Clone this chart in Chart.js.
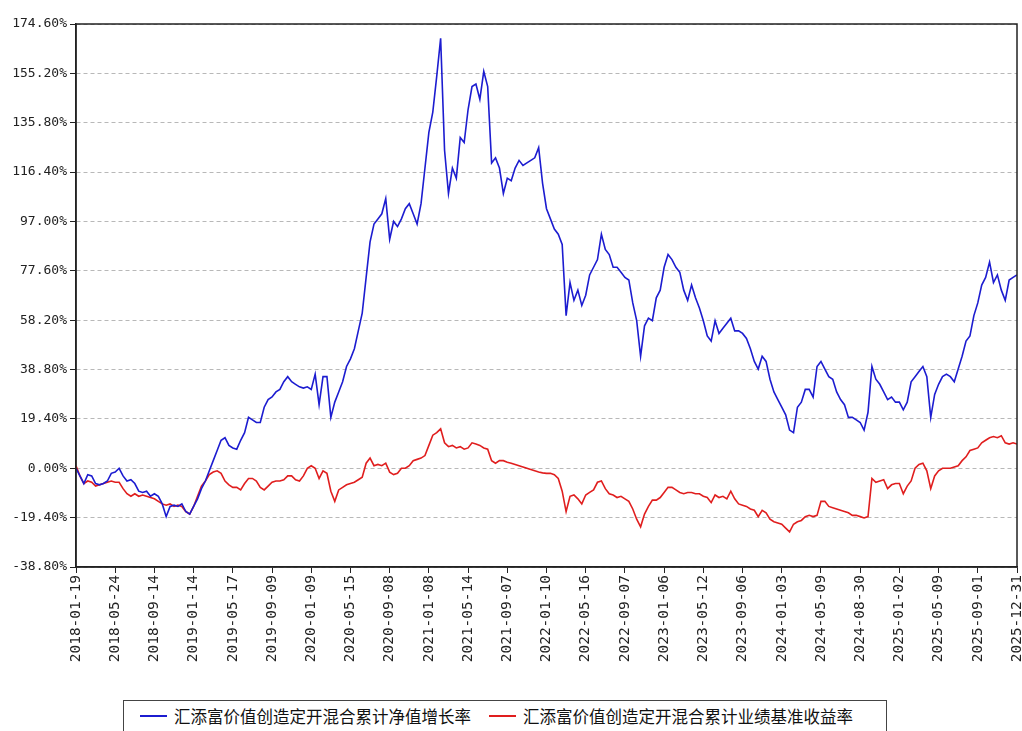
<!DOCTYPE html>
<html>
<head>
<meta charset="utf-8">
<title>汇添富价值创造定开混合 累计收益率</title>
<script src="https://cdn.jsdelivr.net/npm/chart.js@4.4.3/dist/chart.umd.min.js"></script>
<style>
  html, body { margin: 0; padding: 0; background: #fff; overflow: hidden; }
  #wrap { position: relative; width: 1022px; height: 731px; }
  #legend {
    position: absolute; left: 123px; top: 700px; width: 764px; height: 44px;
    box-sizing: border-box; border: 1px solid #444; background: #fff;
    font-family: "Noto Sans CJK SC", sans-serif; font-size: 16.5px; color: #111;
    display: flex; align-items: flex-start; padding: 3px 0 0 16px; white-space: nowrap;
  }
  #legend .item { display: flex; align-items: center; margin-right: 18px; }
  #legend .swatch { display: inline-block; width: 27px; height: 2px; margin-right: 7px; }
</style>
</head>
<body>
<div id="wrap">
  <canvas id="chart" width="1022" height="731"></canvas>
  <div id="legend"></div>
</div>
<script>
/* 累计净值增长率 vs 业绩基准收益率, one point per ~8 trading days */
const seriesNames = ['汇添富价值创造定开混合累计净值增长率', '汇添富价值创造定开混合累计业绩基准收益率'];
const seriesColors = ['#1c1cd0', '#e01e1e'];

// x tick labels, one every 10 points
const dateTicks = [
  '2018-01-19', '2018-05-24', '2018-09-14', '2019-01-14', '2019-05-17',
  '2019-09-09', '2020-01-09', '2020-05-15', '2020-09-08', '2021-01-08',
  '2021-05-14', '2021-09-07', '2022-01-10', '2022-05-16', '2022-09-07',
  '2023-01-06', '2023-05-12', '2023-09-06', '2024-01-03', '2024-05-09',
  '2024-08-30', '2025-01-02', '2025-05-09', '2025-09-01', '2025-12-31'
];
const yTicks = [-38.8, -19.4, 0, 19.4, 38.8, 58.2, 77.6, 97.0, 116.4, 135.8, 155.2, 174.6];

// 累计净值增长率 (%)
const navGrowth = [
  0, -3, -6, -2.5, -3, -6, -6.5, -6, -5, -2,
  -1.5, 0, -3, -5, -4.5, -6, -9, -9.5, -9, -11,
  -10, -11, -14, -19, -15, -14.5, -15, -14, -17, -18,
  -15, -12, -8, -5, -1, 3, 7, 11, 12, 9,
  8, 7.5, 11, 14, 20, 19, 18, 18, 24, 27,
  28, 30, 31, 34, 36, 34, 33, 32, 31.5, 32,
  31, 37, 25, 36, 36, 20, 26, 30, 34, 40,
  43, 47, 54, 61, 75, 89, 96, 98, 100, 106,
  90, 97, 95, 98, 102, 104, 100, 96, 104, 118,
  132, 140, 154, 169, 125, 108, 118, 114, 130, 128,
  141, 150, 151, 145, 156, 150, 120, 122, 118, 108,
  114, 113, 118, 121, 119, 120, 121, 122, 126, 112,
  102, 98, 94, 92, 88, 60, 73, 66, 70, 64,
  68, 76, 79, 82, 92, 86, 84, 79, 79, 77,
  75, 74, 65, 58, 44, 56, 59, 58, 67, 70,
  79, 84, 82, 79, 77, 70, 66, 72, 67, 63,
  58, 52, 50, 58, 53, 55, 57, 59, 54, 54,
  53, 51, 47, 42, 39, 44, 42, 35, 30, 27,
  24, 21, 15, 14, 24, 26, 31, 31, 28, 40,
  42, 39, 36, 35, 30, 27, 25, 20, 20, 19,
  18, 15, 22, 40, 35, 33, 30, 27, 28, 26,
  26, 23, 26, 34, 36, 38, 40, 36, 20, 29,
  33, 36, 37, 36, 34, 39, 44, 50, 52, 60,
  65, 72, 75, 81, 73, 76, 70, 66, 74, 75,
  76
];

// 累计业绩基准收益率 (%)
const benchReturn = [
  1, -3, -6, -5, -5.5, -7, -6.5, -6, -5.5, -5,
  -5.5, -5.5, -8, -10, -11, -10, -11, -10.5, -11, -11.5,
  -12, -13, -14, -14.5, -14, -15, -14.5, -15, -17, -18,
  -15, -11, -7, -5, -2.5, -1.5, -1, -2, -5, -6.5,
  -7.5, -7.5, -8.5, -6, -4, -4, -5, -7.5, -8.5, -7,
  -5.5, -5, -5, -4.5, -3, -3, -4.5, -5, -3, 0,
  1, 0, -4, -1, -2, -9, -13, -8.5, -7.5, -6.5,
  -6, -5.5, -4.5, -3.5, 2, 4, 1, 1.5, 1, 2,
  -1.5, -2.5, -2, 0, 0, 1, 3, 3.5, 4, 5,
  9, 13, 14, 15.5, 10, 8.5, 9, 8, 8.5, 7.5,
  8, 10, 9.5, 9, 8, 7.5, 3, 2, 3, 3,
  2.4, 2, 1.5, 1, 0.5, 0, -0.5, -1, -1.5, -1.8,
  -2, -2, -2.5, -4, -9, -17, -11, -10.5, -12, -14,
  -10.5, -9.5, -8.5, -5.5, -5, -8, -10, -10.5, -11.5, -11,
  -12, -13, -16, -20, -23, -18, -15, -12.5, -12.5, -11.5,
  -9.5, -7.5, -7.5, -8.5, -9.5, -10, -9.5, -9.5, -10, -10,
  -11, -11.5, -13.5, -10.5, -11.5, -11, -12, -9, -12, -14,
  -14.5, -15, -16, -16.5, -19, -16.5, -17.5, -20, -21, -21.5,
  -22, -23.5, -25, -22, -21, -20.5, -19, -18.5, -19, -18.5,
  -13, -13, -15, -15.5, -16, -16.5, -17, -17.5, -18.5, -18.5,
  -19, -19.5, -19, -4, -5.5, -5, -4.5, -8, -6.5, -6,
  -6, -10, -7, -5, 0, 1.5, 2, -1, -8, -3,
  -1, 0, 0, 0, 0.5, 1, 3, 4.5, 7, 7.5,
  8, 10, 11, 12, 12.5, 12, 12.8, 10, 9.5, 10,
  9.5
];

const frame = {
  id: 'frame',
  afterDraw(chart) {
    const { ctx, chartArea: a } = chart;
    ctx.save();
    ctx.strokeStyle = '#222';
    ctx.lineWidth = 1.5;
    ctx.strokeRect(a.left, a.top, a.right - a.left, a.bottom - a.top);
    ctx.restore();
  }
};

const yFont = { family: '"DejaVu Sans Mono", monospace', size: 13 };
const xFont = { family: '"DejaVu Sans Mono", monospace', size: 14.5 };

new Chart(document.getElementById('chart'), {
  type: 'line',
  data: {
    datasets: [navGrowth, benchReturn].map((vals, k) => ({
      label: seriesNames[k],
      data: vals.map((v, i) => ({ x: i, y: v })),
      borderColor: seriesColors[k],
      borderWidth: 1.6,
      pointRadius: 0,
      tension: 0,
      fill: false
    }))
  },
  options: {
    responsive: false,
    animation: false,
    layout: { padding: { top: 24, right: 5, left: 0, bottom: 0 } },
    plugins: { legend: { display: false }, tooltip: { enabled: false } },
    scales: {
      x: {
        type: 'linear',
        min: 0,
        max: (dateTicks.length - 1) * 10,
        afterBuildTicks: s => { s.ticks = dateTicks.map((d, i) => ({ value: i * 10 })); },
        afterFit: s => { s.height = 164; s.paddingLeft = 0; s.paddingRight = 0; },
        ticks: {
          autoSkip: false, minRotation: 90, maxRotation: 90, padding: 2,
          color: '#222', font: xFont,
          callback: v => dateTicks[Math.round(v / 10)]
        },
        grid: { drawOnChartArea: false, drawTicks: true, tickLength: 6, tickColor: '#222' },
        border: { display: true, color: '#222', width: 1.5 }
      },
      y: {
        min: yTicks[0],
        max: yTicks[yTicks.length - 1],
        afterBuildTicks: s => { s.ticks = yTicks.map(v => ({ value: v })); },
        afterFit: s => { s.width = 76; s.paddingTop = 0; s.paddingBottom = 0; },
        ticks: {
          padding: 3, color: '#222', font: yFont,
          callback: v => v.toFixed(2) + '%'
        },
        grid: { color: '#b8b8b8', lineWidth: 1, tickLength: 6, tickColor: '#222', tickBorderDash: [] },
        border: { display: true, color: '#222', width: 1.5, dash: [4, 3] }
      }
    }
  },
  plugins: [frame]
});

// legend as page text, in a box under the chart like the original
const legendEl = document.getElementById('legend');
legendEl.innerHTML = seriesNames.map((n, k) =>
  `<span class="item"><span class="swatch" style="background:${seriesColors[k]}"></span>${n}</span>`).join('');
</script>
</body>
</html>
